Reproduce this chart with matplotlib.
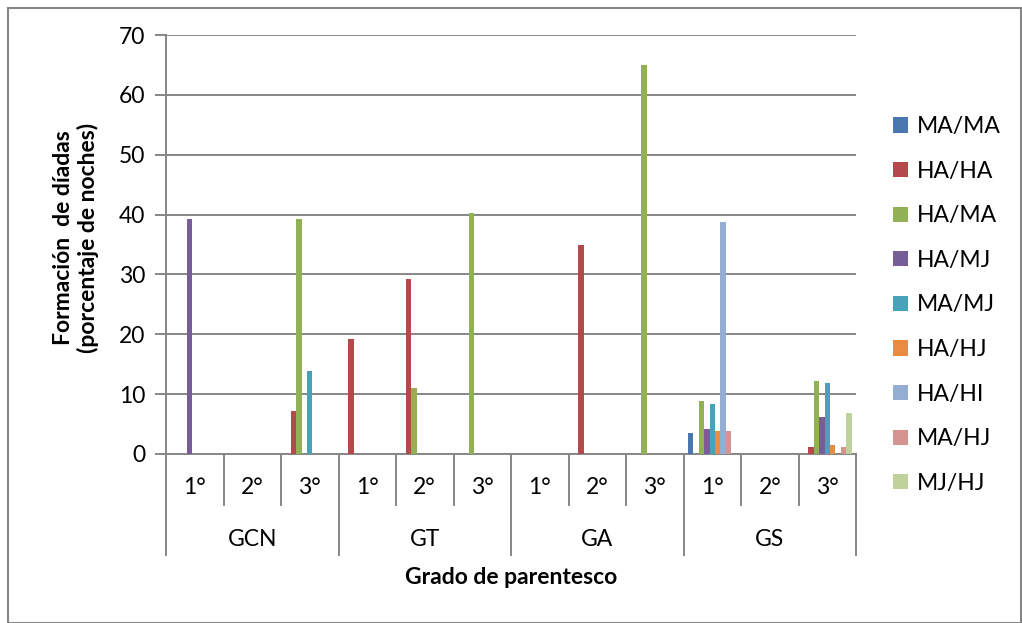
import matplotlib

matplotlib.use("Agg")
import matplotlib.pyplot as plt
import numpy as np
from matplotlib.patches import Rectangle
from matplotlib.transforms import blended_transform_factory

plt.rcParams["font.family"] = ["Lato", "DejaVu Sans"]

groups = ["GCN", "GT", "GA", "GS"]
degrees = ["1°", "2°", "3°"]
series = ["MA/MA", "HA/HA", "HA/MA", "HA/MJ", "MA/MJ",
          "HA/HJ", "HA/HI", "MA/HJ", "MJ/HJ"]
colors = ["#4A77B0", "#B5484A", "#92B054", "#785E99", "#47A2BA",
          "#E98C42", "#93ADD3", "#D69491", "#BFD29B"]

# one row per series, 12 columns: GCN 1-3, GT 1-3, GA 1-3, GS 1-3
ma_ma = [0, 0, 0, 0, 0, 0, 0, 0, 0, 3.5, 0, 0]
ha_ha = [0, 0, 7.2, 19.2, 29.3, 0, 0, 35.0, 0, 0, 0, 1.2]
ha_ma = [0, 0, 39.3, 0, 11.0, 40.3, 0, 0, 65.0, 8.9, 0, 12.2]
ha_mj = [39.3, 0, 0, 0, 0, 0, 0, 0, 0, 4.2, 0, 6.1]
ma_mj = [0, 0, 13.8, 0, 0, 0, 0, 0, 0, 8.4, 0, 11.8]
ha_hj = [0, 0, 0, 0, 0, 0, 0, 0, 0, 3.8, 0, 1.5]
ha_hi = [0, 0, 0, 0, 0, 0, 0, 0, 0, 38.8, 0, 0]
ma_hj = [0, 0, 0, 0, 0, 0, 0, 0, 0, 3.8, 0, 1.1]
mj_hj = [0, 0, 0, 0, 0, 0, 0, 0, 0, 0, 0, 6.8]
values = [ma_ma, ha_ha, ha_ma, ha_mj, ma_mj, ha_hj, ha_hi, ma_hj, mj_hj]

W, H = 1022, 623
fig = plt.figure(figsize=(W / 100, H / 100), dpi=100)
ax = fig.add_axes([166 / W, 1 - 454 / H, (856 - 166) / W, (454 - 35) / H])

grid_c = "#868686"
fs = 16.5
n_cat = len(groups) * len(degrees)
x = np.arange(n_cat)
bw = 1 / (len(series) + 1.5)
for i, (name, vals, c) in enumerate(zip(series, values, colors)):
    ax.bar(x + (i - 4) * bw, vals, bw, color=c, label=name, zorder=3)

ax.set_xlim(-0.5, n_cat - 0.5)
ax.set_ylim(0, 70)
ax.set_yticks(range(0, 71, 10))
ax.yaxis.grid(True, color=grid_c, lw=1.4, zorder=0)
ax.tick_params(axis="y", length=8, width=1.4, color=grid_c, labelsize=fs, pad=7)
ax.set_xticks([])
for s in ["top", "right"]:
    ax.spines[s].set_visible(False)
for s in ["left", "bottom"]:
    ax.spines[s].set_color(grid_c)
    ax.spines[s].set_linewidth(1.4)

# multi-level category axis
tr = blended_transform_factory(ax.transData, ax.transAxes)
ph = 454 - 35
inner_len = 51 / ph
outer_len = 101 / ph
for b in range(n_cat + 1):
    length = outer_len if b % 3 == 0 else inner_len
    ax.plot([b - 0.5, b - 0.5], [0, -length], color=grid_c, lw=1.4,
            transform=tr, clip_on=False)
for k in range(n_cat):
    ax.text(k, -33 / ph, degrees[k % 3], transform=tr, ha="center",
            va="center", fontsize=fs)
for g, name in enumerate(groups):
    ax.text(g * 3 + 1, -86 / ph, name, transform=tr, ha="center",
            va="center", fontsize=fs)

fig.text(511 / W, 1 - 578 / H, "Grado de parentesco", ha="center",
         va="center", fontsize=fs, fontweight="bold")
fig.text(76 / W, 1 - 238 / H, "Formación  de díadas\n(porcentaje de noches)",
         ha="center", va="center", rotation=90, fontsize=fs,
         fontweight="bold", linespacing=1.2)

ax.legend(loc="upper left", bbox_to_anchor=(893 / W, 1 - 116 / H),
          bbox_transform=fig.transFigure, frameon=False, fontsize=fs,
          handlelength=0.65, handleheight=0.65, handletextpad=0.4,
          labelspacing=1.03, borderaxespad=0, borderpad=0)

fig.patches.append(Rectangle((8 / W, 0), 1 - 8 / W - 1 / W, 1 - 8 / H,
                             transform=fig.transFigure, fill=False,
                             ec=grid_c, lw=1.5))

fig.savefig("out.png", dpi=100)
